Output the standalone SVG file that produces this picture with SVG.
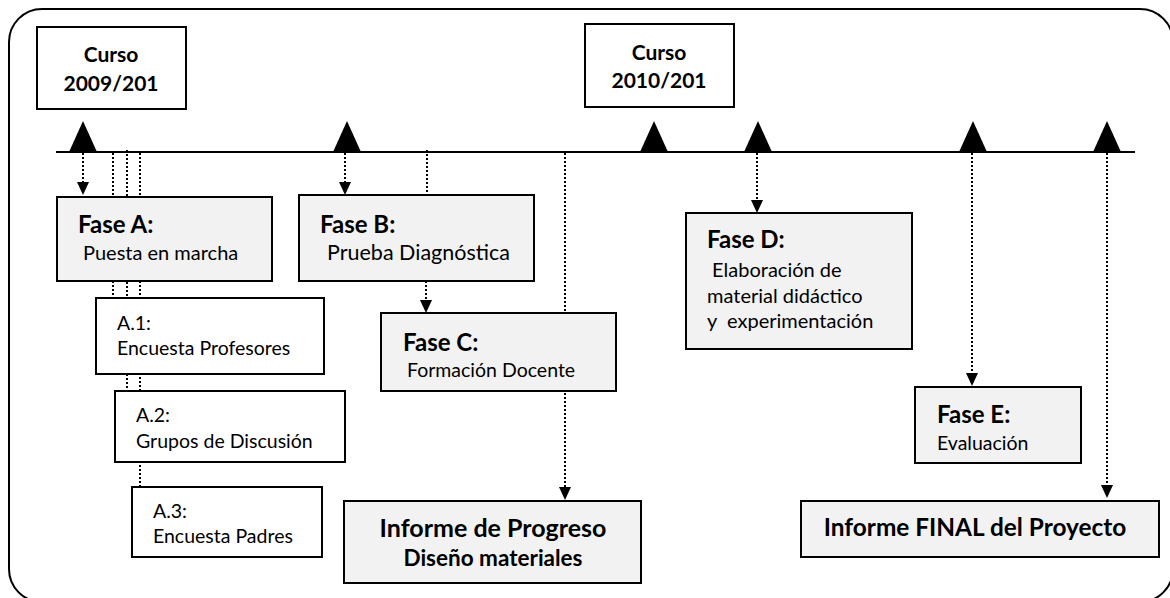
<svg xmlns="http://www.w3.org/2000/svg" width="1170" height="598" viewBox="0 0 1170 598">
<style>
.frame{fill:none;stroke:#000;stroke-width:2}
.box{fill:#f2f2f2;stroke:#000;stroke-width:2}
.wbox{fill:#fff;stroke:#000;stroke-width:2}
.dot{fill:none;stroke:#000;stroke-width:2;stroke-dasharray:2 2}
.tl{stroke:#000;stroke-width:2}
.b{font-family:Lato,"Liberation Sans",sans-serif;font-weight:bold;fill:#000}
.r{font-family:Lato,"Liberation Sans",sans-serif;fill:#000;white-space:pre}
.h{font-size:24px}
.c{font-size:21px}
.t{font-size:20px}
.s{font-size:19.5px}
</style>
<rect class="frame" x="9" y="9" width="1164" height="593" rx="33" ry="33"/>
<g id="connectors">
<line class="tl" x1="56" y1="152" x2="1135" y2="152"/>
<path d="M69,152 L83,121 L97,152 Z"/>
<path d="M333,152 L347,121 L361,152 Z"/>
<path d="M640,152 L654,121 L668,152 Z"/>
<path d="M744,152 L758,121 L772,152 Z"/>
<path d="M959,152 L973,121 L987,152 Z"/>
<path d="M1093,152 L1107,121 L1121,152 Z"/>
<line class="dot" x1="83" y1="153" x2="83" y2="183"/>
<path d="M77,182 L89,182 L83,195 Z"/>
<line class="dot" x1="113" y1="153" x2="113" y2="298"/>
<line class="dot" x1="127" y1="150" x2="127" y2="391"/>
<line class="dot" x1="140" y1="153" x2="140" y2="487"/>
<line class="dot" x1="345" y1="153" x2="345" y2="183"/>
<path d="M339,182 L351,182 L345,195 Z"/>
<line class="dot" x1="427" y1="150" x2="427" y2="195"/>
<line class="dot" x1="426" y1="281" x2="426" y2="301"/>
<path d="M420,300 L432,300 L426,313 Z"/>
<line class="dot" x1="565" y1="153" x2="565" y2="488"/>
<path d="M559,487 L571,487 L565,500 Z"/>
<line class="dot" x1="757" y1="153" x2="757" y2="201"/>
<path d="M751,200 L763,200 L757,213 Z"/>
<line class="dot" x1="972" y1="153" x2="972" y2="374"/>
<path d="M966,373 L978,373 L972,386 Z"/>
<line class="dot" x1="1107" y1="153" x2="1107" y2="486"/>
<path d="M1101,485 L1113,485 L1107,498 Z"/>
</g>
<g id="curso1">
<rect class="wbox" x="37" y="27" width="149" height="82"/>
<text class="b c" x="111" y="62" text-anchor="middle">Curso</text>
<text class="b c" x="111" y="91" text-anchor="middle">2009/201</text>
</g>
<g id="curso2">
<rect class="wbox" x="585" y="24" width="149" height="83"/>
<text class="b c" x="659" y="60" text-anchor="middle">Curso</text>
<text class="b c" x="659" y="88" text-anchor="middle">2010/201</text>
</g>
<g id="faseA">
<rect class="box" x="57" y="197" width="215" height="84"/>
<text class="b h" x="78" y="233">Fase A:</text>
<text class="r t" x="83" y="260">Puesta en marcha</text>
</g>
<g id="faseB">
<rect class="box" x="299" y="195" width="235" height="86"/>
<text class="b h" x="320" y="233">Fase B:</text>
<text class="r" style="font-size:21.5px" x="327" y="260">Prueba Diagnóstica</text>
</g>
<g id="a1">
<rect class="wbox" x="96" y="298" width="228" height="76"/>
<text class="r s" x="117" y="330">A.1:</text>
<text class="r s" x="117" y="355">Encuesta Profesores</text>
</g>
<g id="a2">
<rect class="wbox" x="115" y="391" width="230" height="71"/>
<text class="r s" x="136" y="422">A.2:</text>
<text class="r s" x="136" y="448">Grupos de Discusión</text>
</g>
<g id="a3">
<rect class="wbox" x="132" y="487" width="190" height="70"/>
<text class="r s" x="153" y="518">A.3:</text>
<text class="r s" x="153" y="543">Encuesta Padres</text>
</g>
<g id="faseC">
<rect class="box" x="381" y="313" width="235" height="78"/>
<text class="b h" x="403" y="351">Fase C:</text>
<text class="r s" x="407" y="377">Formación Docente</text>
</g>
<g id="progreso">
<rect class="box" x="344" y="501" width="297" height="82"/>
<text class="b" style="font-size:25px" x="493" y="537" text-anchor="middle">Informe de Progreso</text>
<text class="b" style="font-size:22.5px" x="493" y="566" text-anchor="middle">Diseño materiales</text>
</g>
<g id="faseD">
<rect class="box" x="686" y="213" width="226" height="136"/>
<text class="b h" x="707" y="248">Fase D:</text>
<text class="r t" x="707" y="277"> Elaboración de</text>
<text class="r t" x="707" y="303">material didáctico</text>
<text class="r t" x="707" y="328">y  experimentación</text>
</g>
<g id="faseE">
<rect class="box" x="915" y="387" width="166" height="76"/>
<text class="b h" x="937" y="423">Fase E:</text>
<text class="r s" x="937" y="450">Evaluación</text>
</g>
<g id="final">
<rect class="box" x="801" y="501" width="358" height="56"/>
<text class="b" style="font-size:24.4px" x="975" y="536" text-anchor="middle">Informe FINAL del Proyecto</text>
</g>
</svg>
